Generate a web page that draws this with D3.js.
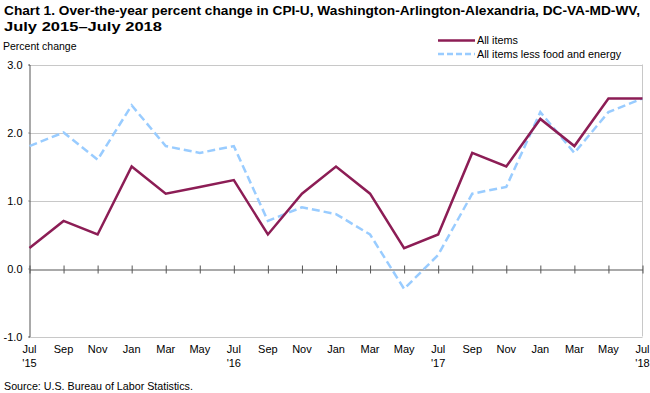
<!DOCTYPE html>
<html><head><meta charset="utf-8">
<script src="https://cdn.jsdelivr.net/npm/d3@7"></script>
<style>body{margin:0;background:#fff;font-family:Arial,"Liberation Sans",sans-serif;}</style>
</head><body>
<svg id="c" width="650" height="393"></svg>
<script>
const months = ["Jul","Sep","Nov","Jan","Mar","May","Jul","Sep","Nov","Jan","Mar","May","Jul","Sep","Nov","Jan","Mar","May","Jul"];
const years  = ["'15","","","","","","'16","","","","","","'17","","","","","","'18"];
const allItems = [0.3,0.7,0.5,1.5,1.1,1.2,1.3,0.5,1.1,1.5,1.1,0.3,0.5,1.7,1.5,2.2,1.8,2.5,2.5];
const core     = [1.8,2.0,1.6,2.4,1.8,1.7,1.8,0.7,0.9,0.8,0.5,-0.3,0.2,1.1,1.2,2.3,1.7,2.3,2.5];
const yTicks = [-1,0,1,2,3];

const svg = d3.select("#c");
const L = 29.5, R = 642.5, T = 64.5, B = 336.5;
const x = d3.scaleLinear().domain([0, months.length-1]).range([L, R]);
const y = d3.scaleLinear().domain([-1,3]).range([B, T]);
const idx = d3.range(months.length);

// title
const title = svg.append("text").attr("font-weight","bold").attr("font-size","13px").attr("fill","#000");
title.append("tspan").attr("x",4).attr("y",15).attr("textLength",636).attr("lengthAdjust","spacingAndGlyphs")
  .text("Chart 1. Over-the-year percent change in CPI-U, Washington-Arlington-Alexandria, DC-VA-MD-WV,");
title.append("tspan").attr("x",4).attr("y",31).attr("textLength",158).attr("lengthAdjust","spacingAndGlyphs").text("July 2015\u2013July 2018");

svg.append("text").attr("x",3).attr("y",50).attr("font-size","10.5px").text("Percent change");

// gridlines
svg.append("g").selectAll("line").data(yTicks.filter(d=>d!==0)).join("line")
  .attr("x1",L).attr("x2",R).attr("y1",d=>Math.round(y(d))+0.5).attr("y2",d=>Math.round(y(d))+0.5)
  .attr("stroke","#c8c8c8").attr("stroke-width",1);
svg.append("line").attr("x1",R).attr("x2",R).attr("y1",T).attr("y2",B).attr("stroke","#c8c8c8");

// y axis
const yAxis = d3.axisLeft(y).tickValues(yTicks).tickFormat(d => (d<0?"-":"") + Math.abs(d).toFixed(1)).tickSize(1).tickPadding(6);
const gy = svg.append("g").attr("transform",`translate(${L},0)`).call(yAxis);
gy.select(".domain").attr("stroke","#555");
gy.selectAll(".tick line").attr("stroke","#555");
gy.selectAll(".tick text").attr("font-size","11px").attr("font-family","Arial,'Liberation Sans',sans-serif").attr("fill","#000");

// zero line with crossing ticks
const gx = svg.append("g").attr("transform",`translate(0,${Math.round(y(0))+0.5})`)
  .call(d3.axisBottom(x).tickValues(idx).tickFormat("").tickSizeInner(4).tickSizeOuter(0));
gx.select(".domain").attr("stroke","#555");
gx.selectAll(".tick line").attr("stroke","#555").attr("y1",-4).attr("y2",4);

// x labels at bottom
const lab = svg.append("g").selectAll("text").data(idx).join("text")
  .attr("x",d=>x(d)).attr("y",353).attr("text-anchor","middle").attr("font-size","11px");
lab.append("tspan").attr("x",d=>x(d)).text(d=>months[d]);
lab.append("tspan").attr("x",d=>x(d)).attr("dy",14).text(d=>years[d]);

// lines
const line = d3.line().x((d,i)=>x(i)).y(d=>y(d));
svg.append("path").datum(core).attr("d",line).attr("fill","none")
  .attr("stroke","#99ccff").attr("stroke-width",2.5).attr("stroke-dasharray","8,4");
svg.append("path").datum(allItems).attr("d",line).attr("fill","none")
  .attr("stroke","#8c1d55").attr("stroke-width",2.5);

// legend
const lg = svg.append("g");
lg.append("line").attr("x1",438).attr("x2",475).attr("y1",40.5).attr("y2",40.5).attr("stroke","#8c1d55").attr("stroke-width",2.5);
lg.append("text").attr("x",477).attr("y",44).attr("font-size","10.8px").text("All items");
lg.append("line").attr("x1",438).attr("x2",475).attr("y1",54).attr("y2",54).attr("stroke","#99ccff").attr("stroke-width",2.5).attr("stroke-dasharray","6,3");
lg.append("text").attr("x",477).attr("y",57.5).attr("font-size","10.8px").text("All items less food and energy");

svg.append("text").attr("x",4).attr("y",390).attr("font-size","10.7px").text("Source: U.S. Bureau of Labor Statistics.");
</script>
</body></html>
